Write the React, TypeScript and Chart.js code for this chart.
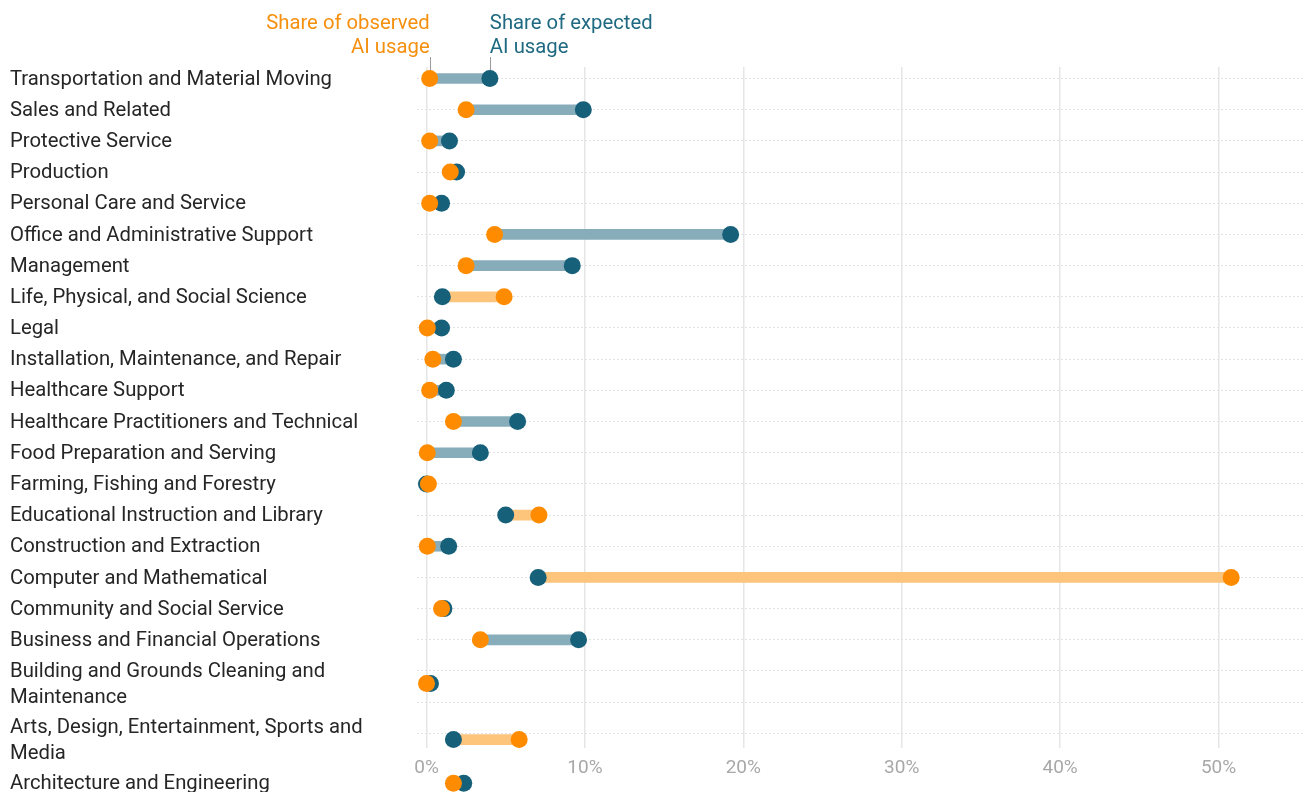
import React, { useEffect, useRef } from "react";
import { Chart, registerables } from "chart.js";

Chart.register(...registerables);

const categories: string[] = [
  "Transportation and Material Moving",
  "Sales and Related",
  "Protective Service",
  "Production",
  "Personal Care and Service",
  "Office and Administrative Support",
  "Management",
  "Life, Physical, and Social Science",
  "Legal",
  "Installation, Maintenance, and Repair",
  "Healthcare Support",
  "Healthcare Practitioners and Technical",
  "Food Preparation and Serving",
  "Farming, Fishing and Forestry",
  "Educational Instruction and Library",
  "Construction and Extraction",
  "Computer and Mathematical",
  "Community and Social Service",
  "Business and Financial Operations",
  "Building and Grounds Cleaning and\nMaintenance",
  "Arts, Design, Entertainment, Sports and\nMedia",
  "Architecture and Engineering",
];

// Share of observed AI usage (%)
const observed: number[] = [
  0.2, 2.5, 0.2, 1.5, 0.2, 4.3, 2.5, 4.9, 0.05, 0.4, 0.2, 1.7, 0.05, 0.12, 7.1,
  0.05, 50.8, 0.95, 3.4, 0.0, 5.85, 1.7,
];

// Share of expected AI usage (%)
const expected: number[] = [
  4.0, 9.9, 1.45, 1.9, 0.95, 19.2, 9.2, 1.0, 0.95, 1.7, 1.25, 5.75, 3.4, 0.0,
  5.0, 1.4, 7.05, 1.1, 9.6, 0.25, 1.7, 2.35,
];

const xTicks: number[] = [0, 10, 20, 30, 40, 50];
const gridRows: number[] = Array.from({ length: 22 }, (_, i) => i);

const observedLabel = ["Share of observed", "AI usage"];
const expectedLabel = ["Share of expected", "AI usage"];

const ORANGE = "#ff8c00";
const ORANGE_TEXT = "#f5900f";
const ORANGE_LIGHT = "#fdc47c";
const TEAL = "#17607a";
const TEAL_TEXT = "#1f6a82";
const TEAL_LIGHT = "#87adbb";

// row positions derived from the number of label lines (two-line labels take more room)
const rowPos: number[] = (() => {
  const out: number[] = [];
  let prevHalf = 0;
  let acc = 0;
  categories.forEach((c, i) => {
    const n = c.split("\n").length;
    const h = 1 + (n - 1) * 0.8;
    if (i === 0) acc = 0;
    else acc += prevHalf + h / 2;
    out.push(acc);
    prevHalf = h / 2;
  });
  return out;
})();

const Y_MIN = -0.37;
const Y_MAX = 21.47;
const X_MIN = -0.6;
const X_MAX = 55.46;

const headerPlugin = {
  id: "headerAnnot",
  beforeDatasetsDraw(chart: any) {
    const ctx = chart.ctx;
    const xs = chart.scales.x;
    const ys = chart.scales.y;
    const xo = xs.getPixelForValue(observed[0]);
    const xe = xs.getPixelForValue(expected[0]);
    const y0 = ys.getPixelForValue(rowPos[0]);
    ctx.save();
    ctx.strokeStyle = "#9a9a9a";
    ctx.lineWidth = 1;
    ctx.beginPath();
    ctx.moveTo(Math.round(xo) + 0.5, 57);
    ctx.lineTo(Math.round(xo) + 0.5, y0 - 8);
    ctx.moveTo(Math.round(xe) + 0.5, 57);
    ctx.lineTo(Math.round(xe) + 0.5, y0 - 8);
    ctx.stroke();
    ctx.restore();
    // let the last row (below the axis labels) be drawn as well
    chart.$savedArea = chart.chartArea;
    chart.chartArea = { ...chart.chartArea, bottom: chart.height + 20 };
  },
  afterDatasetsDraw(chart: any) {
    if (chart.$savedArea) {
      chart.chartArea = chart.$savedArea;
      chart.$savedArea = null;
    }
  },
  afterDraw(chart: any) {
    const ctx = chart.ctx;
    const xs = chart.scales.x;
    const xo = xs.getPixelForValue(observed[0]);
    const xe = xs.getPixelForValue(expected[0]);
    ctx.save();
    ctx.font = "20.3px Roboto";
    ctx.textBaseline = "middle";
    ctx.fillStyle = ORANGE_TEXT;
    ctx.textAlign = "right";
    observedLabel.forEach((t, i) => ctx.fillText(t, xo, 24 + i * 24));
    ctx.fillStyle = TEAL_TEXT;
    ctx.textAlign = "left";
    expectedLabel.forEach((t, i) => ctx.fillText(t, xe, 24 + i * 24));
    ctx.restore();
  },
};

export default function App() {
  const ref = useRef<HTMLCanvasElement | null>(null);

  useEffect(() => {
    if (!ref.current) return;
    Chart.defaults.font.family = "Roboto";
    const chart = new Chart(ref.current, {
      type: "scatter",
      data: {
        datasets: [
          {
            type: "scatter",
            label: "Observed",
            data: categories.map((_, i) => ({ x: observed[i], y: rowPos[i] })),
            backgroundColor: ORANGE,
            borderWidth: 0,
            pointRadius: 8.5,
            pointHoverRadius: 8.5,
            yAxisID: "y",
            xAxisID: "x",
            clip: false as any,
            order: 0,
          },
          {
            type: "scatter",
            label: "Expected",
            data: categories.map((_, i) => ({ x: expected[i], y: rowPos[i] })),
            backgroundColor: TEAL,
            borderWidth: 0,
            pointRadius: 8.5,
            pointHoverRadius: 8.5,
            yAxisID: "y",
            xAxisID: "x",
            clip: false as any,
            order: 1,
          },
          {
            type: "bar",
            label: "Gap",
            indexAxis: "y",
            data: categories.map((_, i) => ({
              x: [observed[i], expected[i]],
              y: rowPos[i],
            })) as any,
            backgroundColor: categories.map((_, i) =>
              observed[i] > expected[i] ? ORANGE_LIGHT : TEAL_LIGHT
            ),
            borderWidth: 0,
            barThickness: 10,
            yAxisID: "y",
            xAxisID: "x",
            clip: false as any,
            order: 2,
          } as any,
        ],
      },
      options: {
        responsive: false,
        animation: false,
        devicePixelRatio: 1,
        events: [],
        layout: { autoPadding: false, padding: { top: 67, left: 10, right: 1, bottom: 0 } },
        plugins: {
          legend: { display: false },
          tooltip: { enabled: false },
        },
        scales: {
          x: {
            type: "linear",
            position: "bottom",
            min: X_MIN,
            max: X_MAX,
            offset: false,
            afterBuildTicks: (s: any) => {
              s.ticks = xTicks.map((v) => ({ value: v }));
            },
            afterFit: (s: any) => {
              s.height = 44;
              s.paddingLeft = 0;
              s.paddingRight = 0;
            },
            ticks: {
              autoSkip: false,
              padding: 9,
              color: "#a8a8a8",
              font: { size: 19 },
              callback: (v: any) => `${v}%`,
              maxRotation: 0,
            },
            grid: { color: "#e6e6e6", lineWidth: 1.5, drawTicks: false, offset: false },
            border: { display: false },
          },
          y: {
            type: "linear",
            position: "left",
            reverse: true,
            min: Y_MIN,
            max: Y_MAX,
            offset: false,
            weight: 0,
            afterBuildTicks: (s: any) => {
              s.ticks = gridRows.map((v) => ({ value: v }));
            },
            afterFit: (s: any) => {
              s.width = 0;
              s.paddingTop = 0;
              s.paddingBottom = 0;
            },
            ticks: { display: false },
            grid: { color: "#e2e2e2", lineWidth: 1, drawTicks: false, offset: false },
            border: { display: false, dash: [2, 2] },
          },
          yLabels: {
            type: "linear",
            position: "left",
            reverse: true,
            min: Y_MIN,
            max: Y_MAX,
            offset: false,
            weight: 1,
            afterBuildTicks: (s: any) => {
              s.ticks = rowPos.map((v) => ({ value: v }));
            },
            afterFit: (s: any) => {
              s.width = 407;
              s.paddingTop = 0;
              s.paddingBottom = 0;
            },
            ticks: {
              autoSkip: false,
              crossAlign: "far",
              padding: 0,
              labelOffset: 1,
              color: "#262626",
              font: { size: 20.3, lineHeight: 1.28 },
              callback: (_v: any, i: number) => categories[i].split("\n"),
            },
            grid: { display: false, drawTicks: false, offset: false },
            border: { display: false },
          },
        },
      } as any,
      plugins: [headerPlugin],
    });
    return () => chart.destroy();
  }, []);

  return (
    <div style={{ position: "fixed", left: 0, top: 0, width: 1306, height: 792, background: "#fff" }}>
      <canvas ref={ref} width={1306} height={792} style={{ width: 1306, height: 792, display: "block" }} />
    </div>
  );
}
